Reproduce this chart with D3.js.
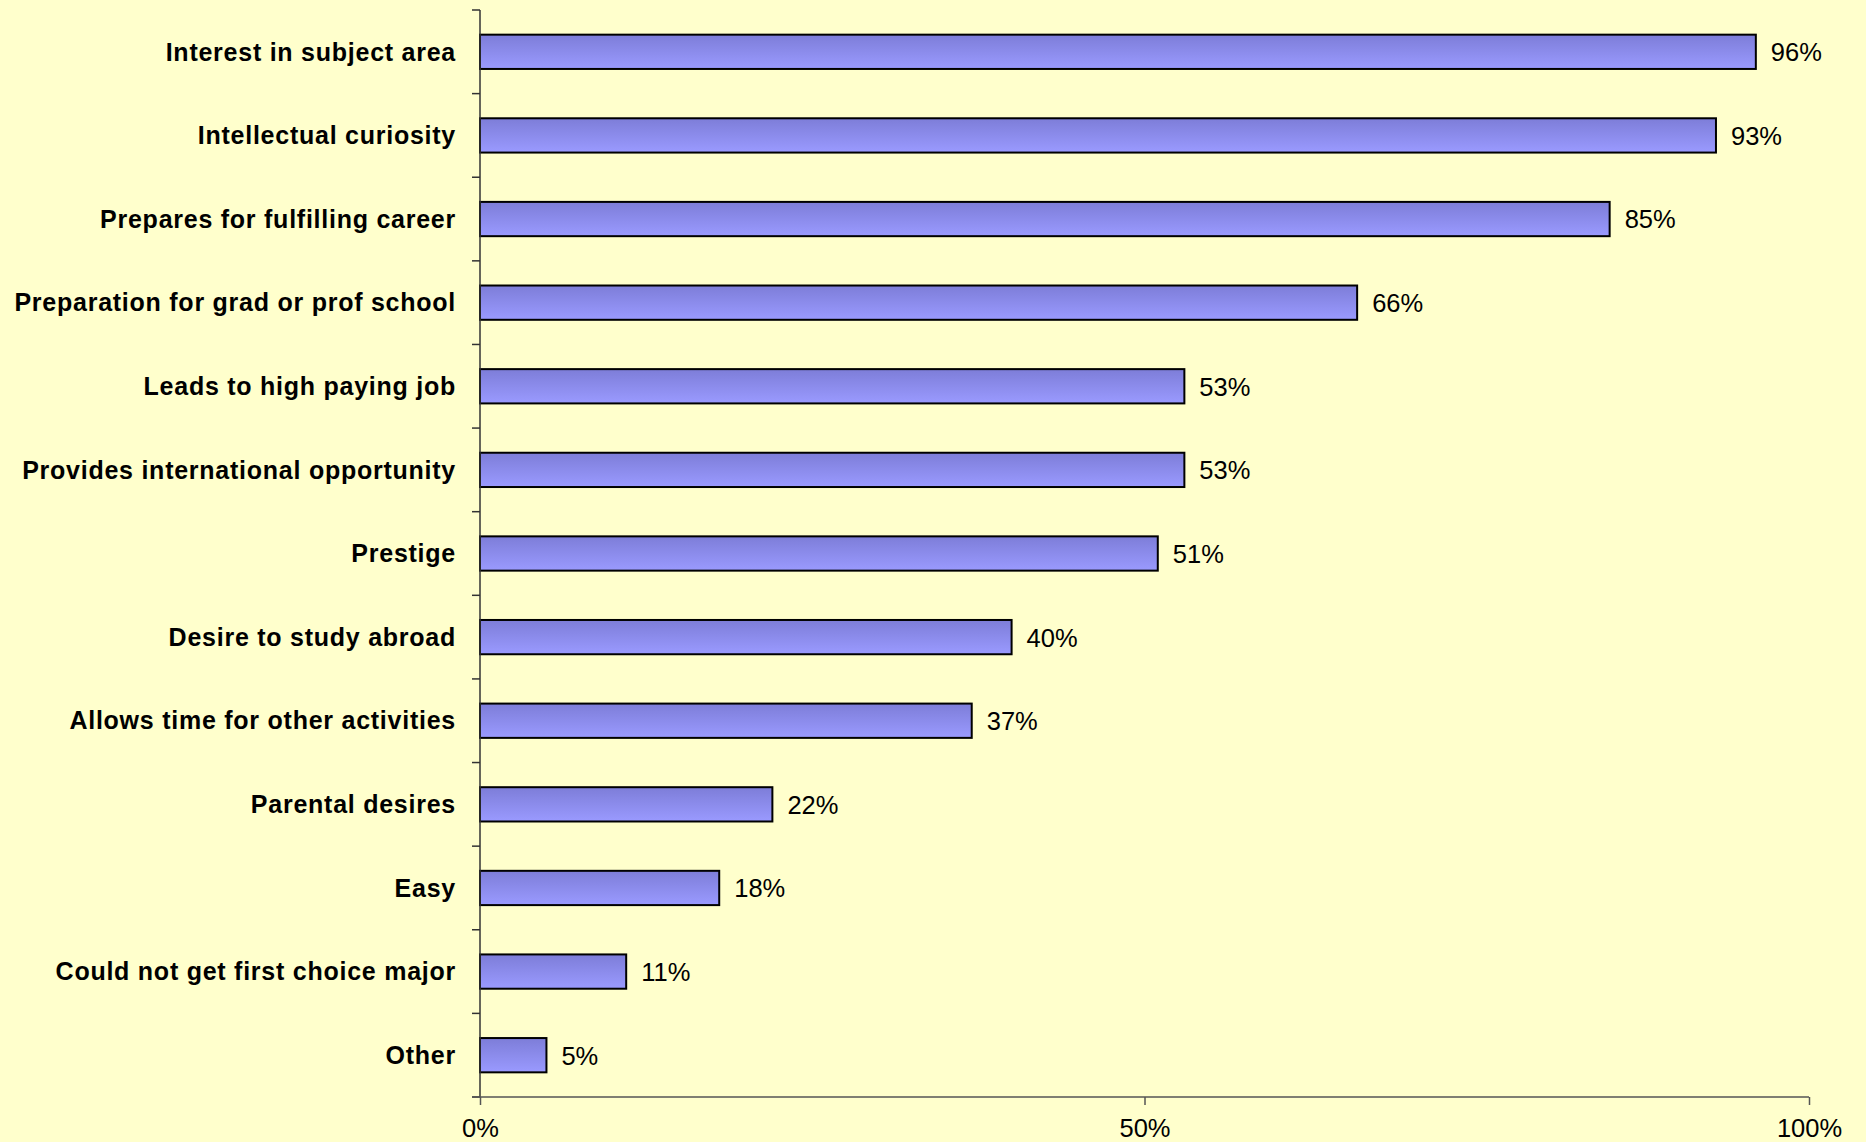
<!DOCTYPE html>
<html>
<head>
<meta charset="utf-8">
<script src="https://cdn.jsdelivr.net/npm/d3@7"></script>
<style>
  html, body { margin: 0; padding: 0; background: #FFFFCC; }
  svg { display: block; }
</style>
</head>
<body>
<svg id="chart" width="1866" height="1142"></svg>
<script>
// Reasons for choosing a major (share of respondents)
const categories = [
  "Interest in subject area",
  "Intellectual curiosity",
  "Prepares for fulfilling career",
  "Preparation for grad or prof school",
  "Leads to high paying job",
  "Provides international opportunity",
  "Prestige",
  "Desire to study abroad",
  "Allows time for other activities",
  "Parental desires",
  "Easy",
  "Could not get first choice major",
  "Other"
];
const values = [96, 93, 85, 66, 53, 53, 51, 40, 37, 22, 18, 11, 5];
const xTicks = [0, 50, 100];

const W = 1866, H = 1142;
const margin = { left: 480, right: 57, top: 10, bottom: 45 };

const svg = d3.select("#chart");
svg.append("rect").attr("width", W).attr("height", H).attr("fill", "#FFFFCC");

const x = d3.scaleLinear().domain([0, 100]).range([margin.left, W - margin.right]);
const y = d3.scaleBand().domain(categories).range([margin.top, H - margin.bottom])
  .paddingInner(0.59).paddingOuter(0.295);
const band = d3.scaleBand().domain(categories).range([margin.top, H - margin.bottom]);

const defs = svg.append("defs");
const grad = defs.append("linearGradient").attr("id", "barFill")
  .attr("x1", 0).attr("y1", 0).attr("x2", 0).attr("y2", 1);
grad.append("stop").attr("offset", "0%").attr("stop-color", "#7d7dd8");
grad.append("stop").attr("offset", "100%").attr("stop-color", "#9a9aff");

const data = categories.map((c, i) => ({ c, v: values[i] }));

// bars
svg.append("g").selectAll("rect").data(data).join("rect")
  .attr("x", x(0))
  .attr("y", d => y(d.c))
  .attr("width", d => x(d.v) - x(0))
  .attr("height", y.bandwidth())
  .attr("fill", "url(#barFill)")
  .attr("stroke", "#000")
  .attr("stroke-width", 2);

// value labels
svg.append("g").selectAll("text").data(data).join("text")
  .attr("x", d => x(d.v) + 15)
  .attr("y", d => y(d.c) + y.bandwidth() / 2)
  .attr("dy", "0.37em")
  .attr("font-family", "Liberation Sans, Arial, sans-serif")
  .attr("font-size", 25.5)
  .attr("fill", "#000")
  .text(d => d.v + "%");

// category axis: ticks at band boundaries
const yAxisG = svg.append("g");
yAxisG.append("line")
  .attr("x1", x(0)).attr("x2", x(0))
  .attr("y1", margin.top).attr("y2", H - margin.bottom)
  .attr("stroke", "#333").attr("stroke-width", 1.5);
const bounds = categories.map(c => band(c)).concat([H - margin.bottom]);
yAxisG.selectAll("line.tick").data(bounds).join("line")
  .attr("class", "tick")
  .attr("x1", x(0) - 8).attr("x2", x(0))
  .attr("y1", d => d).attr("y2", d => d)
  .attr("stroke", "#333").attr("stroke-width", 1.5);
yAxisG.selectAll("text").data(categories).join("text")
  .attr("x", x(0) - 24)
  .attr("y", d => band(d) + band.bandwidth() / 2)
  .attr("dy", "0.35em")
  .attr("text-anchor", "end")
  .attr("font-family", "Liberation Sans, Arial, sans-serif")
  .attr("font-weight", "bold")
  .attr("font-size", 25)
  .attr("letter-spacing", 0.75)
  .attr("fill", "#000")
  .text(d => d);

// value axis
const xAxis = d3.axisBottom(x).tickValues(xTicks).tickFormat(d => d + "%")
  .tickSizeInner(8).tickSizeOuter(0).tickPadding(14);
const xg = svg.append("g").attr("transform", `translate(0,${H - margin.bottom})`).call(xAxis);
xg.select(".domain").attr("stroke", "#555").attr("stroke-width", 1.5)
  .attr("d", `M${x(0) - 8},0H${x(100)}`);
xg.selectAll(".tick line").attr("stroke", "#555").attr("stroke-width", 1.5);
xg.selectAll(".tick text")
  .attr("font-family", "Liberation Sans, Arial, sans-serif")
  .attr("font-size", 25.5)
  .attr("fill", "#000");
</script>
</body>
</html>
